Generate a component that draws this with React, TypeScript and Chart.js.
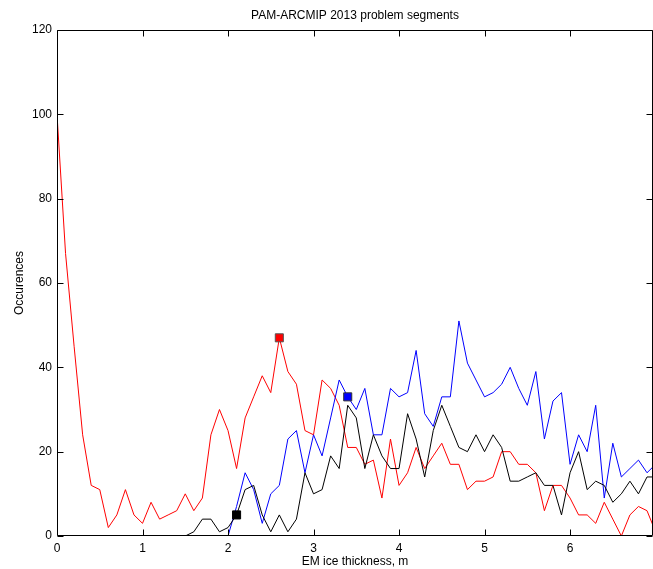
import { useEffect, useRef } from "react";
import { Chart, registerables } from "chart.js";

Chart.register(...registerables);

// Ice-thickness bins (m)
const thickness = [
  0, 0.1, 0.2, 0.3, 0.4, 0.5, 0.6, 0.7, 0.8, 0.9,
  1.0, 1.1, 1.2, 1.3, 1.4, 1.5, 1.6, 1.7, 1.8, 1.9,
  2.0, 2.1, 2.2, 2.3, 2.4, 2.5, 2.6, 2.7, 2.8, 2.9,
  3.0, 3.1, 3.2, 3.3, 3.4, 3.5, 3.6, 3.7, 3.8, 3.9,
  4.0, 4.1, 4.2, 4.3, 4.4, 4.5, 4.6, 4.7, 4.8, 4.9,
  5.0, 5.1, 5.2, 5.3, 5.4, 5.5, 5.6, 5.7, 5.8, 5.9,
  6.0, 6.1, 6.2, 6.3, 6.4, 6.5, 6.6, 6.7, 6.8, 6.9,
  7.0,
];

// Occurrence counts per bin
const redCounts: (number | null)[] = [
  100, 67, 45, 24, 12, 11, 2, 5, 11, 5,
  3, 8, 4, 5, 6, 10, 6, 9, 24, 30,
  25, 16, 28, 33, 38, 34, 47, 39, 36, 25,
  24, 37, 35, 31, 21, 21, 17, 18, 9, 23,
  12, 15, 21, 16, 19, 22, 17, 17, 11, 13,
  13, 14, 20, 20, 17, 17, 15, 6, 12, 12,
  9, 5, 5, 3, 8, 4, 0, 5, 7, 6,
  1,
];

const blueCounts: (number | null)[] = [
  null, null, null, null, null, null, null, null, null, null,
  null, null, null, null, null, null, null, null, null, null,
  0, 7, 15, 11, 3, 10, 12, 23, 25, 15,
  24, 19, 28, 37, 33, 30, 35, 24, 24, 35,
  33, 34, 44, 29, 26, 33, 33, 51, 41, 37,
  33, 34, 36, 40, 35, 31, 39, 23, 32, 34,
  17, 24, 20, 31, 9, 22, 14, 16, 18, 15,
  17,
];

const blackCounts: (number | null)[] = [
  null, null, null, null, null, null, null, null, null, null,
  null, null, null, null, null, 0, 1, 4, 4, 1,
  2, 5, 11, 12, 5, 1, 5, 1, 4, 15,
  10, 11, 19, 16, 31, 28, 16, 24, 19, 16,
  16, 29, 23, 14, 25, 31, 26, 21, 20, 24,
  20, 24, 21, 13, 13, 14, 15, 12, 12, 5,
  15, 20, 11, 13, 12, 8, 10, 13, 10, 14,
  14,
];

// Highlighted bins
const redMarker = [{ x: 2.6, y: 47 }];
const blueMarker = [{ x: 3.4, y: 33 }];
const blackMarker = [{ x: 2.1, y: 5 }];

const xTickValues = [0, 1, 2, 3, 4, 5, 6];
const yTickValues = [0, 20, 40, 60, 80, 100, 120];

const FONT = "'Liberation Sans', Arial, Helvetica, sans-serif";

function toPoints(values: (number | null)[]) {
  return thickness
    .map((x, i) => ({ x, y: values[i] }))
    .filter((p) => p.y !== null) as { x: number; y: number }[];
}

// Box frame with inward-pointing tick marks on all four sides
const frameTicks = {
  id: "frameTicks",
  afterDraw(chart: any) {
    const { ctx, chartArea, scales } = chart;
    const { left, right, top, bottom } = chartArea;
    const L = Math.round(left) + 0.5;
    const R = Math.round(right) - 0.5;
    const T = Math.round(top) + 0.5;
    const B = Math.round(bottom) - 0.5;
    const len = 6;
    ctx.save();
    ctx.strokeStyle = "#000";
    ctx.lineWidth = 1;
    ctx.beginPath();
    ctx.rect(L, T, R - L, B - T);
    for (const v of xTickValues) {
      const px = Math.round(scales.x.getPixelForValue(v)) + 0.5;
      ctx.moveTo(px, B);
      ctx.lineTo(px, B - len);
      ctx.moveTo(px, T);
      ctx.lineTo(px, T + len);
    }
    for (const v of yTickValues) {
      const py = Math.round(scales.y.getPixelForValue(v)) + 0.5;
      ctx.moveTo(L, py);
      ctx.lineTo(L + len, py);
      ctx.moveTo(R, py);
      ctx.lineTo(R - len, py);
    }
    ctx.stroke();
    ctx.restore();
  },
};

export default function App() {
  const canvasRef = useRef<HTMLCanvasElement | null>(null);

  useEffect(() => {
    const canvas = canvasRef.current;
    if (!canvas) return;

    const lineStyle = (color: string) => ({
      borderColor: color,
      backgroundColor: color,
      borderWidth: 1,
      pointRadius: 0,
      fill: false,
      tension: 0,
    });

    const markerStyle = (color: string, edge: string) => ({
      showLine: false,
      pointStyle: "rect" as const,
      pointRadius: 5.7,
      pointBackgroundColor: color,
      pointBorderColor: edge,
      pointBorderWidth: 1,
      borderColor: edge,
      backgroundColor: color,
    });

    const chart = new Chart(canvas, {
      type: "line",
      data: {
        datasets: [
          { label: "red peak", data: redMarker, ...markerStyle("#ff0000", "#555555") },
          { label: "blue peak", data: blueMarker, ...markerStyle("#0000ff", "#333333") },
          { label: "black peak", data: blackMarker, ...markerStyle("#000000", "#000000") },
          { label: "black", data: toPoints(blackCounts), ...lineStyle("#000000") },
          { label: "blue", data: toPoints(blueCounts), ...lineStyle("#0000ff") },
          { label: "red", data: toPoints(redCounts), ...lineStyle("#ff0000") },
        ],
      },
      options: {
        animation: false,
        responsive: false,
        devicePixelRatio: 1,
        layout: { padding: 0, autoPadding: false },
        plugins: {
          legend: { display: false },
          tooltip: { enabled: false },
          title: {
            display: true,
            fullSize: false,
            text: "PAM-ARCMIP 2013 problem segments",
            color: "#000",
            font: { family: FONT, size: 12, weight: "normal" },
            padding: { top: 8, bottom: 7.6 },
          },
        },
        scales: {
          x: {
            type: "linear",
            min: 0,
            max: 6.97,
            afterBuildTicks: (s: any) => {
              s.ticks = xTickValues.map((value) => ({ value }));
            },
            afterFit: (s: any) => {
              s.height = 33;
              s.paddingLeft = 0;
              s.paddingRight = 0;
            },
            grid: { display: false, drawTicks: false },
            border: { display: false },
            ticks: {
              color: "#000",
              padding: 5,
              maxRotation: 0,
              font: { family: FONT, size: 12 },
            },
            title: {
              display: true,
              text: "EM ice thickness, m",
              color: "#000",
              font: { family: FONT, size: 12 },
              padding: { top: 0, bottom: 0 },
            },
          },
          y: {
            type: "linear",
            min: 0,
            max: 120,
            afterBuildTicks: (s: any) => {
              s.ticks = yTickValues.map((value) => ({ value }));
            },
            afterFit: (s: any) => {
              s.width = 57;
              s.paddingTop = 0;
              s.paddingBottom = 0;
            },
            grid: { display: false, drawTicks: false },
            border: { display: false },
            ticks: {
              color: "#000",
              padding: 5,
              font: { family: FONT, size: 12 },
            },
            title: {
              display: true,
              text: "Occurences",
              color: "#000",
              font: { family: FONT, size: 12 },
              padding: { top: 12.8, bottom: 0 },
            },
          },
        },
      },
      plugins: [frameTicks],
    });

    return () => chart.destroy();
  }, []);

  return (
    <div style={{ position: "absolute", left: 0, top: 0, width: 653, height: 569, background: "#fff" }}>
      <canvas ref={canvasRef} width={653} height={569} style={{ display: "block" }} />
    </div>
  );
}
